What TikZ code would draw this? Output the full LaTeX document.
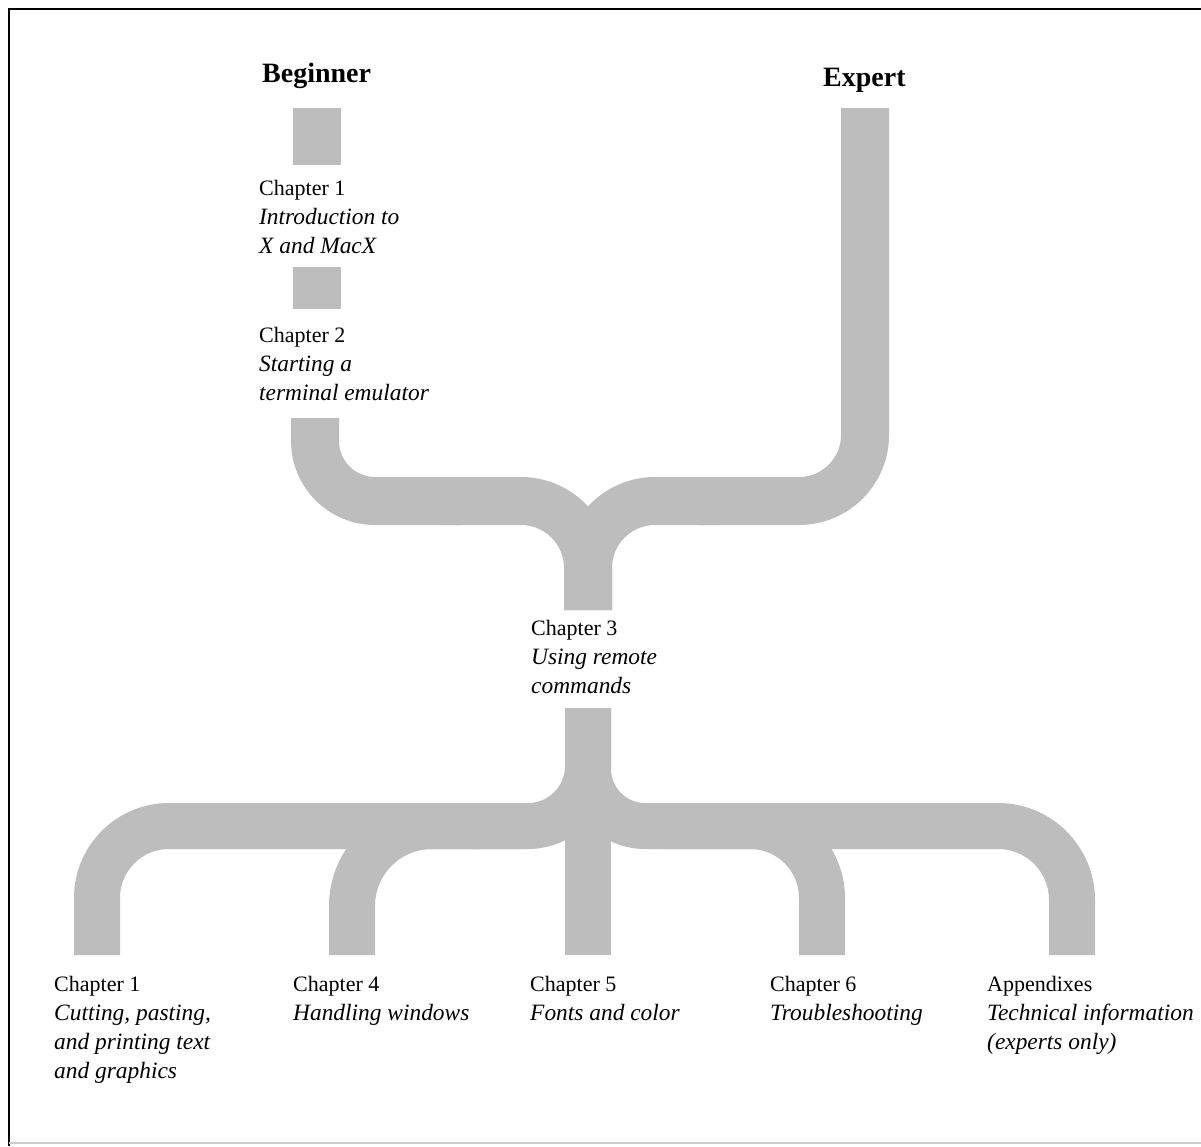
\documentclass[tikz,border=0pt]{standalone}
\usepackage{fontspec}
\setmainfont{Liberation Serif}
\definecolor{bandgray}{gray}{0.74}
\newcommand\subt[1]{{\fontsize{23.4}{29}\selectfont\itshape #1}}
\tikzset{
  band/.style={draw=bandgray, line width=#1},
  band/.default=48pt,
  chap/.style={anchor=base west, inner sep=0pt, align=left, font=\fontsize{22}{29}\selectfont},
  level/.style={anchor=base west, inner sep=0pt, font=\fontsize{28}{32}\selectfont\bfseries}
}
\begin{document}
\begin{tikzpicture}[x=1pt, y=-1pt]
\useasboundingbox (0,0) rectangle (1201,1146);
\fill[white] (0,0) rectangle (1201,1146);
% frame
\draw[line width=2.5pt] (1201,9) -- (9,9) -- (9,1146);
\draw[black!20, line width=2pt] (9,1143) -- (1201,1143);

% beginner path
\fill[bandgray] (293,108) rectangle (341,165);
\fill[bandgray] (293,267) rectangle (341,309);
\draw[band, rounded corners=60pt] (315,418) -- (315,501) -- (460,501);
\draw[band, rounded corners=67pt] (440,501) -- (588,501) -- (588,610);

% expert path
\draw[band, rounded corners=66pt] (865,108) -- (865,501) -- (700,501);
\draw[band, rounded corners=67pt] (720,501) -- (588,501) -- (588,610);

% lower branches
\draw[band=46pt] (588,708) -- (588,955);
\draw[band=46pt, rounded corners=60pt] (588,708) -- (588,826) -- (470,826);
\draw[band=46pt, rounded corners=57pt] (588,708) -- (588,826) -- (700,826);
\draw[band=46pt, rounded corners=72pt] (480,826) -- (97,826) -- (97,955);
\draw[band=46pt, rounded corners=80pt] (520,826) -- (352,826) -- (352,955);
\draw[band=46pt, rounded corners=72pt] (660,826) -- (822,826) -- (822,955);
\draw[band=46pt, rounded corners=74pt] (700,826) -- (1072,826) -- (1072,955);

% labels (base = last line)
\node[level] (beginner) at (262,82) {Beginner};
\node[level] (expert) at (823,86) {Expert};
\node[chap] (intro) at (259,253) {Chapter 1\\\subt{Introduction to}\\\subt{X and MacX}};
\node[chap] (start) at (259,400) {Chapter 2\\\subt{Starting a}\\\subt{terminal emulator}};
\node[chap] (remote) at (531,693) {Chapter 3\\\subt{Using remote}\\\subt{commands}};
\node[chap] (cutting) at (54,1078) {Chapter 1\\\subt{Cutting, pasting,}\\\subt{and printing text}\\\subt{and graphics}};
\node[chap] (windows) at (293,1020) {Chapter 4\\\subt{Handling windows}};
\node[chap] (fonts) at (530,1020) {Chapter 5\\\subt{Fonts and color}};
\node[chap] (trouble) at (770,1020) {Chapter 6\\\subt{Troubleshooting}};
\node[chap] (appendix) at (987,1049) {Appendixes\\\subt{Technical information}\\\subt{(experts only)}};
\end{tikzpicture}
\end{document}
